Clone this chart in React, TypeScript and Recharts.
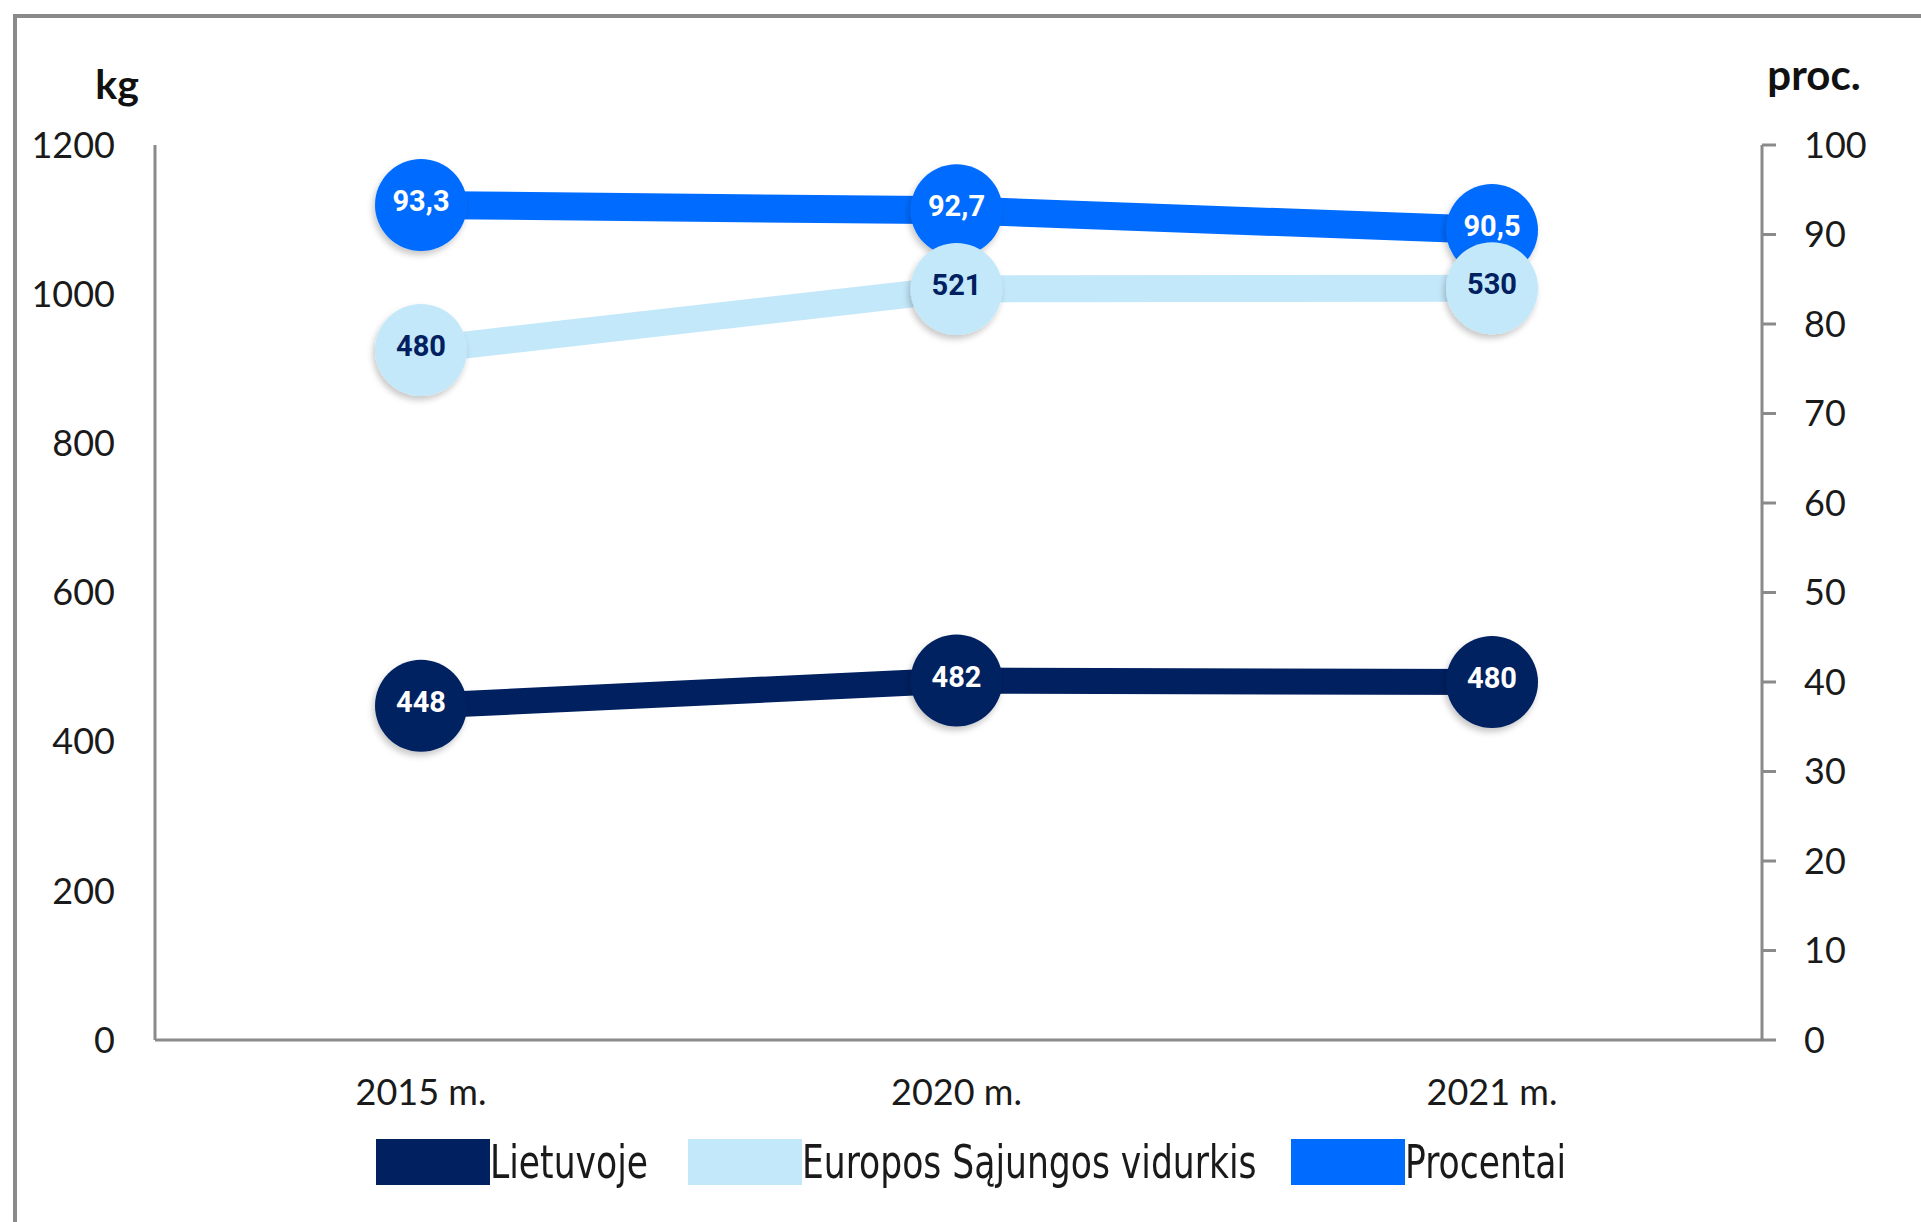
import React from "react";
import { Line, LineChart, XAxis, YAxis } from "recharts";

// Categories and values.
const years = ["2015 m.", "2020 m.", "2021 m."];
const lietuvoje = [448, 482, 480];
const procentai = [93.3, 92.7, 90.5];
// The EU-average line is printed with these labels...
const esVidurkisLabels = [480, 521, 530];
// ...but sits at these heights on the kg axis in the original chart.
const esVidurkisPlot = [925, 1007, 1008];

const kgTicks = [0, 200, 400, 600, 800, 1000, 1200];
const pctTicks = [0, 10, 20, 30, 40, 50, 60, 70, 80, 90, 100];

const NAVY = "#002060";
const LIGHT = "#c3e8fa";
const BLUE = "#006cff";
const AXIS = "#8a8a8a";

const rows = years.map((year, i) => ({
  year,
  lt: lietuvoje[i],
  eu: esVidurkisPlot[i],
  pct: procentai[i],
}));

const legendItems = [
  { name: "Lietuvoje", color: NAVY, left: 376 },
  { name: "Europos Sąjungos vidurkis", color: LIGHT, left: 688 },
  { name: "Procentai", color: BLUE, left: 1291 },
];

const tickFont = { fill: "#1a1a1a", fontSize: 36, fontFamily: "Lato, 'Open Sans', sans-serif" };

function makeDot(fill: string, textColor: string, labels: string[]) {
  return (props: any) => {
    const { cx, cy, index } = props;
    if (cx == null || cy == null) return <g key={`d-${index}`} />;
    return (
      <g key={`d-${fill}-${index}`}>
        <circle cx={cx} cy={cy} r={46} fill={fill} filter="url(#dotShadow)" />
        <text
          x={cx}
          y={cy - 4}
          textAnchor="middle"
          dominantBaseline="central"
          fill={textColor}
          fontFamily="Roboto, Arial, sans-serif"
          fontWeight={700}
          fontSize={29}
        >
          {labels[index]}
        </text>
      </g>
    );
  };
}

const comma = (v: number) => v.toFixed(1).replace(".", ",");

export default function App() {
  return (
    <div
      style={{
        position: "absolute",
        left: 0,
        top: 0,
        width: 1921,
        height: 1222,
        overflow: "hidden",
        background: "#fff",
      }}
    >
      {/* outer frame, cut off at the right and bottom like the source */}
      <div
        style={{
          position: "absolute",
          left: 13,
          top: 14,
          width: 2000,
          height: 1300,
          borderTop: `4px solid ${AXIS}`,
          borderLeft: `4px solid ${AXIS}`,
        }}
      />
      <div style={{ position: "absolute", left: 0, top: 0 }}>
        <LineChart
          width={1921}
          height={1222}
          data={rows}
          margin={{ top: 145, right: 0, bottom: 122, left: 0 }}
        >
          <defs>
            <filter id="dotShadow" x="-30%" y="-30%" width="160%" height="160%">
              <feDropShadow dx={-2} dy={4} stdDeviation={3} floodColor="#000" floodOpacity={0.22} />
            </filter>
          </defs>
          <XAxis
            dataKey="year"
            padding={{ left: 266, right: 270 }}
            height={60}
            tick={tickFont}
            tickLine={false}
            tickSize={0}
            tickMargin={39}
            axisLine={{ stroke: AXIS, strokeWidth: 3 }}
          />
          <YAxis
            yAxisId="kg"
            orientation="left"
            width={155}
            domain={[0, 1200]}
            ticks={kgTicks}
            interval={0}
            tick={tickFont}
            tickLine={false}
            tickSize={0}
            tickMargin={40}
            axisLine={{ stroke: AXIS, strokeWidth: 3 }}
          />
          <YAxis
            yAxisId="pct"
            orientation="right"
            width={159}
            domain={[0, 100]}
            ticks={pctTicks}
            interval={0}
            tick={tickFont}
            tickLine={{ stroke: AXIS, strokeWidth: 3 }}
            tickSize={14}
            tickMargin={28}
            axisLine={{ stroke: AXIS, strokeWidth: 3 }}
          />
          <Line
            yAxisId="pct"
            type="linear"
            dataKey="pct"
            stroke={BLUE}
            strokeWidth={28}
            dot={makeDot(BLUE, "#ffffff", procentai.map(comma))}
            activeDot={false}
            isAnimationActive={false}
          />
          <Line
            yAxisId="kg"
            type="linear"
            dataKey="eu"
            stroke={LIGHT}
            strokeWidth={27}
            dot={makeDot(LIGHT, NAVY, esVidurkisLabels.map(String))}
            activeDot={false}
            isAnimationActive={false}
          />
          <Line
            yAxisId="kg"
            type="linear"
            dataKey="lt"
            stroke={NAVY}
            strokeWidth={26}
            dot={makeDot(NAVY, "#ffffff", lietuvoje.map(String))}
            activeDot={false}
            isAnimationActive={false}
          />
        </LineChart>
      </div>
      {/* axis unit titles */}
      <svg
        width={1921}
        height={200}
        style={{ position: "absolute", left: 0, top: 0, pointerEvents: "none" }}
      >
        <text x={117} y={99} textAnchor="middle" fontFamily="Lato, sans-serif" fontWeight={700} fontSize={41} fill="#111">
          kg
        </text>
        <text x={1814} y={90} textAnchor="middle" fontFamily="Lato, sans-serif" fontWeight={700} fontSize={42} fill="#111">
          proc.
        </text>
      </svg>
      {/* legend: condensed text like the source */}
      {legendItems.map((it) => (
        <div
          key={it.name}
          style={{
            position: "absolute",
            left: it.left,
            top: 1139,
            height: 46,
            display: "flex",
            alignItems: "center",
          }}
        >
          <div style={{ width: 114, height: 46, background: it.color }} />
          <span
            style={{
              fontFamily: "'Liberation Sans Narrow', 'DejaVu Sans Condensed', Lato, sans-serif",
              fontSize: 46,
              color: "#1a1a1a",
              lineHeight: 1,
              whiteSpace: "nowrap",
              display: "inline-block",
              transform: "scaleX(0.835)",
              transformOrigin: "left center",
            }}
          >
            {it.name}
          </span>
        </div>
      ))}
    </div>
  );
}
